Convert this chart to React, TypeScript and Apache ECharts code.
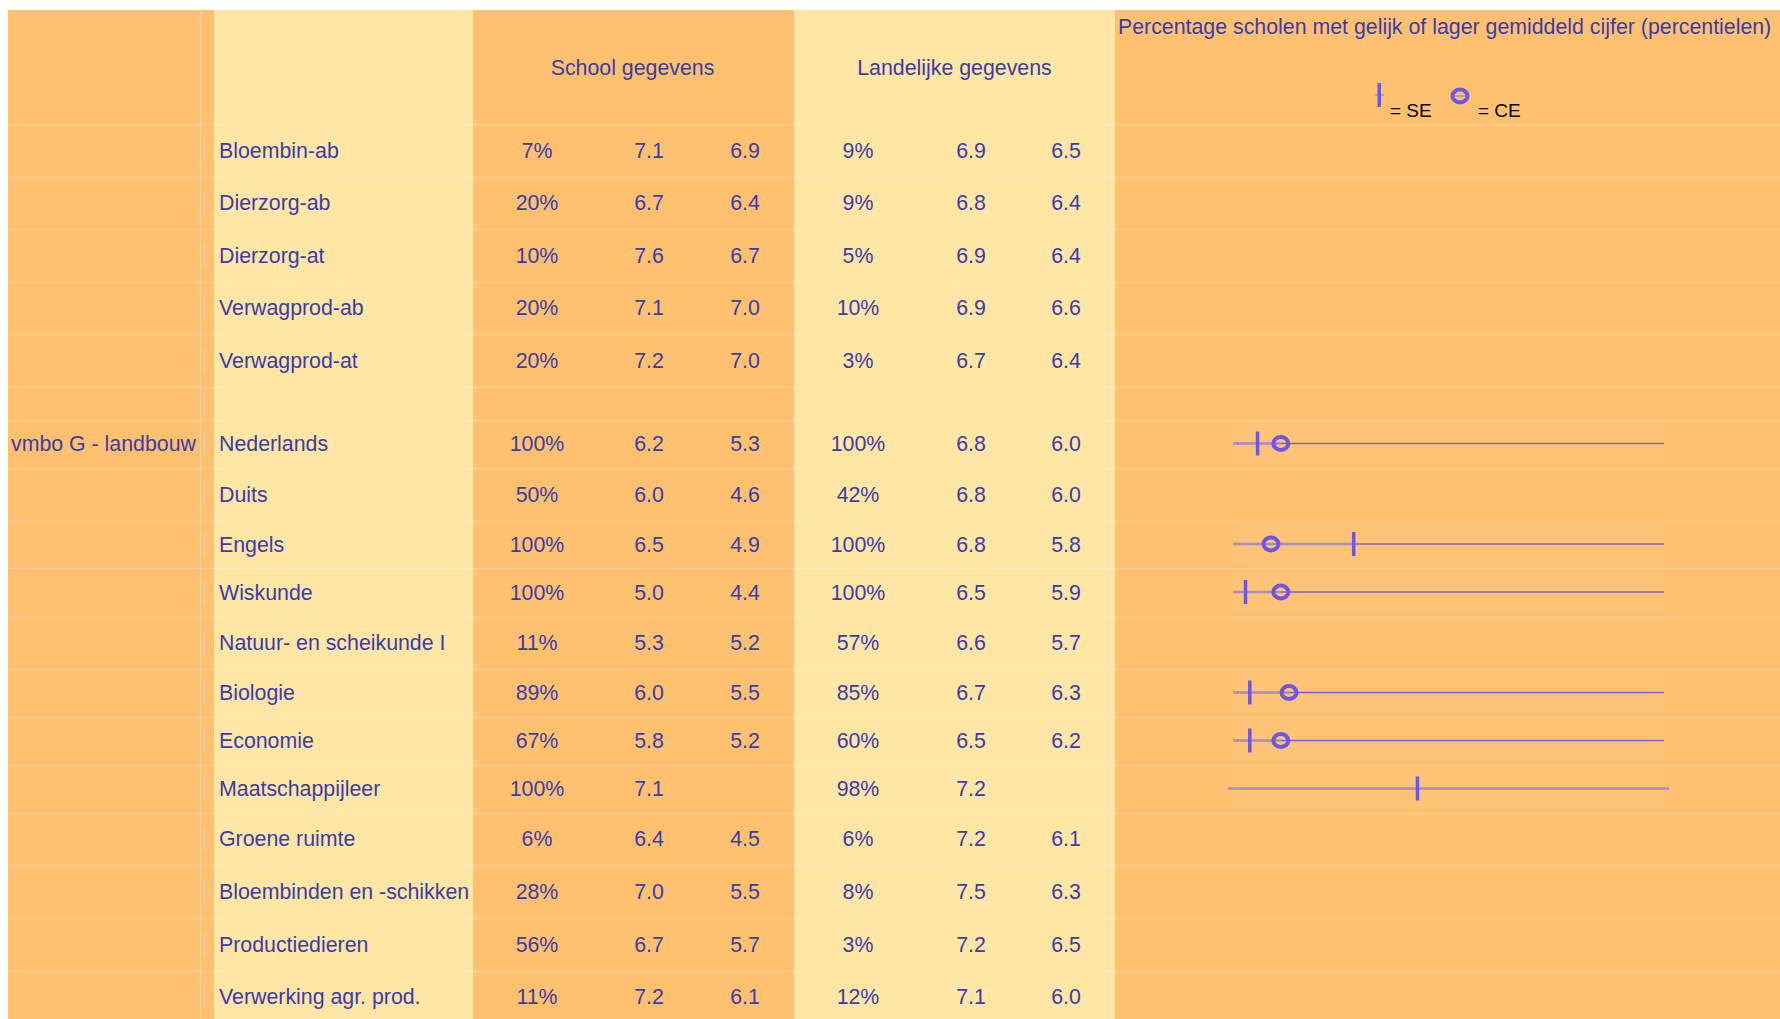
import React, { useEffect, useRef } from "react";
import * as echarts from "echarts";

// ---------- data ----------
const groupLabel = "vmbo G - landbouw";
const headerSchool = "School gegevens";
const headerLand = "Landelijke gegevens";
const chartTitle = "Percentage scholen met gelijk of lager gemiddeld cijfer (percentielen)";
const legendSE = "= SE";
const legendCE = "= CE";

const subjects = [
  "Bloembin-ab", "Dierzorg-ab", "Dierzorg-at", "Verwagprod-ab", "Verwagprod-at", "",
  "Nederlands", "Duits", "Engels", "Wiskunde", "Natuur- en scheikunde I", "Biologie",
  "Economie", "Maatschappijleer", "Groene ruimte", "Bloembinden en -schikken",
  "Productiedieren", "Verwerking agr. prod.",
];
const schoolPct = [7, 20, 10, 20, 20, null, 100, 50, 100, 100, 11, 89, 67, 100, 6, 28, 56, 11];
const schoolSE = [7.1, 6.7, 7.6, 7.1, 7.2, null, 6.2, 6.0, 6.5, 5.0, 5.3, 6.0, 5.8, 7.1, 6.4, 7.0, 6.7, 7.2];
const schoolCE = [6.9, 6.4, 6.7, 7.0, 7.0, null, 5.3, 4.6, 4.9, 4.4, 5.2, 5.5, 5.2, null, 4.5, 5.5, 5.7, 6.1];
const landPct = [9, 9, 5, 10, 3, null, 100, 42, 100, 100, 57, 85, 60, 98, 6, 8, 3, 12];
const landSE = [6.9, 6.8, 6.9, 6.9, 6.7, null, 6.8, 6.8, 6.8, 6.5, 6.6, 6.7, 6.5, 7.2, 7.2, 7.5, 7.2, 7.1];
const landCE = [6.5, 6.4, 6.4, 6.6, 6.4, null, 6.0, 6.0, 5.8, 5.9, 5.7, 6.3, 6.2, null, 6.1, 6.3, 6.5, 6.0];
// percentiles (0-100) of school SE / CE average
const percSE = [null, null, null, null, null, null, 5.7, null, 28.0, 2.9, null, 3.9, 3.9, 42.8, null, null, null, null];
const percCE = [null, null, null, null, null, null, 11.1, null, 8.8, 11.1, null, 13.0, 11.1, null, null, null, null, null];
const groupRowIndex = 6;

// ---------- layout / style ----------
const W = 1780;
const H = 1019;
const TOP = 10;
const HEADER_BOTTOM = 124;
const ROW_H = [53, 52, 53, 52, 53, 33, 48, 53, 47, 49, 52, 48, 48, 48, 52, 53, 53, 52];
const ORANGE = "#FFC170";
const YELLOW = "#FFE6A4";
const TEXT = "#3A3CAE";
const MARK = "#6D55E8";
const FONT = '"Liberation Sans", Arial, sans-serif';
const FS = 21.33;

const COLS = {
  a: [8, 200],
  strip: [200, 214],
  b: [214, 473],
  c: [473, 794],
  d: [794, 1115],
  e: [1115, W],
};
const SUB_X = [537, 649, 745, 858, 971, 1066];

const rowTops: number[] = [];
{
  let y = HEADER_BOTTOM;
  for (const h of ROW_H) {
    rowTops.push(y);
    y += h;
  }
}
const rowCenter = (i: number) => rowTops[i] + ROW_H[i] / 2;

const fmt1 = (v: number | null) => (v == null ? "" : v.toFixed(1));
const fmtPct = (v: number | null) => (v == null ? "" : `${v}%`);

function txt(text: string, x: number, y: number, align = "left", size = FS, fill = TEXT) {
  return {
    type: "text",
    silent: true,
    style: {
      text,
      x,
      y,
      fill,
      fontSize: size,
      fontFamily: FONT,
      align,
      verticalAlign: "middle",
    },
  };
}

function buildGraphic() {
  const els: any[] = [];
  const rect = (x0: number, x1: number, fill: string) =>
    els.push({ type: "rect", silent: true, shape: { x: x0, y: TOP, width: x1 - x0, height: H - TOP }, style: { fill } });
  rect(COLS.a[0], COLS.a[1], ORANGE);
  rect(COLS.strip[0], COLS.strip[1], ORANGE);
  rect(COLS.b[0], COLS.b[1], YELLOW);
  rect(COLS.c[0], COLS.c[1], ORANGE);
  rect(COLS.d[0], COLS.d[1], YELLOW);
  rect(COLS.e[0], COLS.e[1], ORANGE);

  const sep = "rgba(255,255,255,0.3)";
  // horizontal separators
  const lines = [HEADER_BOTTOM, ...rowTops.slice(1)];
  lines.forEach((y) => {
    els.push({ type: "line", silent: true, shape: { x1: 8, y1: y + 0.5, x2: W, y2: y + 0.5 }, style: { stroke: sep, lineWidth: 1 } });
  });
  // vertical thin line between group column and strip
  els.push({ type: "line", silent: true, shape: { x1: 200.5, y1: TOP, x2: 200.5, y2: H }, style: { stroke: sep, lineWidth: 1 } });
  rowTops.forEach((_, i) => {
    const cy = rowCenter(i);
    els.push({ type: "line", silent: true, shape: { x1: 204.5, y1: cy - 12, x2: 204.5, y2: cy + 12 }, style: { stroke: sep, lineWidth: 1 } });
  });

  // header texts
  els.push(txt(headerSchool, (COLS.c[0] + COLS.c[1]) / 2 - 1, 68, "center"));
  els.push(txt(headerLand, (COLS.d[0] + COLS.d[1]) / 2, 68, "center"));
  els.push(txt(chartTitle, 1118, 27, "left"));

  // legend
  els.push({ type: "line", silent: true, shape: { x1: 1375, y1: 95, x2: 1384, y2: 95 }, style: { stroke: "#A98AC8", lineWidth: 1.5 } });
  els.push({ type: "rect", silent: true, shape: { x: 1377.5, y: 83, width: 3.5, height: 24 }, style: { fill: MARK } });
  els.push(txt(legendSE, 1390, 110, "left", 19, "#000"));
  els.push({ type: "ellipse", silent: true, shape: { cx: 1460, cy: 96, rx: 7.5, ry: 6.5 }, style: { fill: "none", stroke: MARK, lineWidth: 4 } });
  els.push({ type: "line", silent: true, shape: { x1: 1455, y1: 96, x2: 1465, y2: 96 }, style: { stroke: "#A98AC8", lineWidth: 1.5 } });
  els.push(txt(legendCE, 1478, 110, "left", 19, "#000"));

  // group label
  els.push(txt(groupLabel, 11, rowCenter(groupRowIndex), "left"));

  // table rows
  subjects.forEach((s, i) => {
    const cy = rowCenter(i);
    if (s) els.push(txt(s, 219, cy, "left"));
    const vals = [
      fmtPct(schoolPct[i]), fmt1(schoolSE[i]), fmt1(schoolCE[i]),
      fmtPct(landPct[i]), fmt1(landSE[i]), fmt1(landCE[i]),
    ];
    vals.forEach((v, k) => {
      if (v) els.push(txt(v, SUB_X[k], cy, "center"));
    });
  });
  return els;
}

const markerData = subjects
  .map((_, i) => (percSE[i] == null && percCE[i] == null ? null : [i, percSE[i] ?? -1, percCE[i] ?? -1]))
  .filter((d) => d != null) as number[][];

export default function App() {
  const ref = useRef<HTMLDivElement>(null);
  useEffect(() => {
    if (!ref.current) return;
    const chart = echarts.init(ref.current, undefined, { renderer: "svg" });
    chart.setOption({
      animation: false,
      backgroundColor: "#ffffff",
      graphic: { elements: buildGraphic() },
      grid: { left: 1233, right: W - 1664, top: 0, bottom: 0, containLabel: false },
      xAxis: { type: "value", min: 0, max: 100, show: false },
      yAxis: { type: "value", min: 0, max: 20, show: false },
      series: [
        {
          type: "custom",
          coordinateSystem: "cartesian2d",
          encode: { x: [1, 2], y: 0 },
          data: markerData,
          clip: false,
          renderItem: (params: any, api: any) => {
            const row = api.value(0);
            const se = api.value(1);
            const ce = api.value(2);
            const cy = rowCenter(row) - 0.5;
            const x0 = api.coord([0, 0])[0];
            const x100 = api.coord([100, 0])[0];
            const xs = se >= 0 ? api.coord([se, 0])[0] : null;
            const xc = ce >= 0 ? api.coord([ce, 0])[0] : null;
            const children: any[] = [];
            children.push({
              type: "rect",
              shape: { x: x0, y: cy - 20, width: x100 - x0, height: 40 },
              style: { fill: "rgba(255,255,255,0.035)" },
            });
            const light = { stroke: "#A98AC8", lineWidth: 2.5 };
            const dark = { stroke: "#7A60D8", lineWidth: 1.5 };
            if (xc == null) {
              children.push({ type: "line", shape: { x1: x0 - 5, y1: cy, x2: x100 + 5, y2: cy }, style: light });
            } else {
              const xm = Math.max(xc, xs ?? 0);
              children.push({ type: "line", shape: { x1: x0, y1: cy, x2: xm, y2: cy }, style: light });
              children.push({ type: "line", shape: { x1: xm, y1: cy, x2: x100, y2: cy }, style: dark });
            }
            if (xs != null) {
              children.push({ type: "rect", shape: { x: xs - 1.75, y: cy - 12, width: 3.5, height: 24 }, style: { fill: MARK } });
            }
            if (xc != null) {
              children.push({ type: "ellipse", shape: { cx: xc, cy, rx: 7.5, ry: 6.5 }, style: { fill: "none", stroke: MARK, lineWidth: 4 } });
            }
            return { type: "group", children };
          },
        },
      ],
    });
    return () => chart.dispose();
  }, []);
  return <div ref={ref} style={{ position: "fixed", left: 0, top: 0, width: W, height: H }} />;
}
